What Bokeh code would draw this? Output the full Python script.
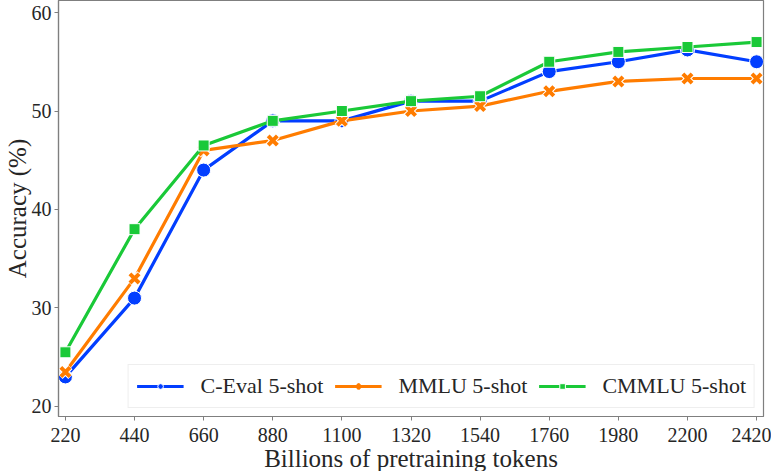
from bokeh.plotting import figure
from bokeh.embed import file_html
from bokeh.resources import INLINE
from bokeh.models import Range1d, FixedTicker, Legend, LegendItem

tokens = [220, 440, 660, 880, 1100, 1320, 1540, 1760, 1980, 2200, 2420]
ceval = [23.0, 31.0, 44.0, 49.0, 49.0, 51.0, 51.0, 54.0, 55.0, 56.2, 55.0]
mmlu = [23.5, 33.0, 46.0, 47.0, 49.0, 50.0, 50.5, 52.0, 53.0, 53.3, 53.3]
cmmlu = [25.5, 38.0, 46.5, 49.0, 50.0, 51.0, 51.5, 55.0, 56.0, 56.5, 57.0]
y_ticks = [20, 30, 40, 50, 60]

BLUE = "#023eff"
ORANGE = "#ff7c00"
GREEN = "#1ac938"
FONT = "Liberation Serif"

p = figure(frame_width=705, frame_height=416, output_backend="svg", toolbar_location=None,
           x_range=Range1d(198, 2442), y_range=Range1d(18.98, 61.22),
           min_border_left=0, min_border_right=8, min_border_top=0, min_border_bottom=0)

p.grid.visible = False
p.outline_line_color = "#7f7f7f"
p.outline_line_width = 1.2

for ax in (p.xaxis[0], p.yaxis[0]):
    ax.axis_line_color = "#7f7f7f"
    ax.axis_line_width = 1.2
    ax.major_tick_line_color = "#7f7f7f"
    ax.major_tick_in = 0
    ax.major_tick_out = 4
    ax.minor_tick_line_color = None
    ax.major_label_text_font = FONT
    ax.major_label_text_font_size = "20px"
    ax.major_label_text_color = "#262626"
    ax.axis_label_text_font = FONT
    ax.axis_label_text_font_size = "25px"
    ax.axis_label_text_font_style = "normal"
    ax.axis_label_text_color = "#262626"

p.xaxis.ticker = FixedTicker(ticks=tokens)
p.yaxis.ticker = FixedTicker(ticks=y_ticks)
p.xaxis.axis_label = "Billions of pretraining tokens"
p.yaxis.axis_label = "Accuracy (%)"
p.xaxis.major_label_standoff = 7
p.yaxis.major_label_standoff = 3
p.xaxis.axis_label_standoff = 0
p.yaxis.axis_label_standoff = -2

l1 = p.line(tokens, ceval, line_color=BLUE, line_width=3.2)
m1 = p.scatter(tokens, ceval, marker="circle", size=14, fill_color=BLUE,
               line_color="white", line_width=1)
l2 = p.line(tokens, mmlu, line_color=ORANGE, line_width=3.2)
m2w = p.scatter(tokens, mmlu, marker="x", size=14, line_color="white", line_width=6)
m2 = p.scatter(tokens, mmlu, marker="x", size=13, line_color=ORANGE, line_width=4)
l3 = p.line(tokens, cmmlu, line_color=GREEN, line_width=3.2)
m3 = p.scatter(tokens, cmmlu, marker="square", size=11, fill_color=GREEN,
               line_color="white", line_width=1)

legend = Legend(items=[
    LegendItem(label="C-Eval 5-shot", renderers=[l1, m1]),
    LegendItem(label="MMLU 5-shot", renderers=[l2, m2]),
    LegendItem(label="CMMLU 5-shot", renderers=[l3, m3]),
], location="bottom_right", orientation="horizontal")
legend.label_text_font = FONT
legend.label_text_font_size = "22px"
legend.label_text_color = "#262626"
legend.glyph_width = 47
legend.glyph_height = 14
legend.label_standoff = 17
legend.spacing = 11
legend.padding = 8
legend.margin = 8
legend.border_line_color = "#dddddd"
legend.border_line_width = 1
legend.background_fill_alpha = 0.85
p.add_layout(legend)

open("out.html", "w").write(file_html(p, INLINE))
